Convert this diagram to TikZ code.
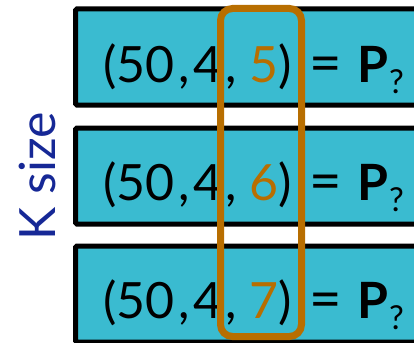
\documentclass[tikz,border=0pt]{standalone}
\usepackage{fontspec}
\setmainfont{Lato}
\definecolor{cyanfill}{RGB}{58,187,208}
\definecolor{orng}{RGB}{184,110,0}
\definecolor{kblue}{RGB}{22,40,150}
\tikzset{
  box/.style={draw=black, line width=5pt, fill=cyanfill, rounded corners=1.5pt,
    minimum width=360pt, minimum height=96pt, inner sep=0pt, outer sep=0pt},
  eqtext/.style={anchor=base west, inner sep=0pt, font=\fontsize{50}{50}\selectfont},
  hilite/.style={draw=orng, line width=7pt, rounded corners=12pt,
    minimum width=81pt, minimum height=328pt, inner sep=0pt},
}
\newcommand{\qsub}{\hspace{1pt}\raisebox{-11pt}{\fontsize{33}{33}\selectfont ?}}
\newcommand{\eqline}[1]{(50\hspace{4pt},\hspace{4pt}4\hspace{3pt},\hspace{12pt}\textcolor{orng}{#1})\hspace{18pt}{\fontsize{56}{56}\selectfont =}\hspace{15pt}\textbf{P}\qsub}
\begin{document}
\begin{tikzpicture}[x=1pt,y=-1pt]
\useasboundingbox (0,0) rectangle (414,342);
\clip (0,0) rectangle (414,342);
\node[box] (b1) at (255.5,57) {};
\node[box] (b2) at (255.5,176) {};
\node[box] (b3) at (255.5,294) {};
\node[eqtext] (t1) at (103,82) {\eqline{5}};
\node[eqtext] (t2) at (103,200) {\eqline{6}};
\node[eqtext] (t3) at (103,318) {\eqline{7}};
\node[hilite] (hl) at (261,172.5) {};
\node[rotate=90, anchor=base, inner sep=0pt, text=kblue, font=\fontsize{50}{50}\selectfont] (k) at (55,176) {K size};
\end{tikzpicture}
\end{document}
